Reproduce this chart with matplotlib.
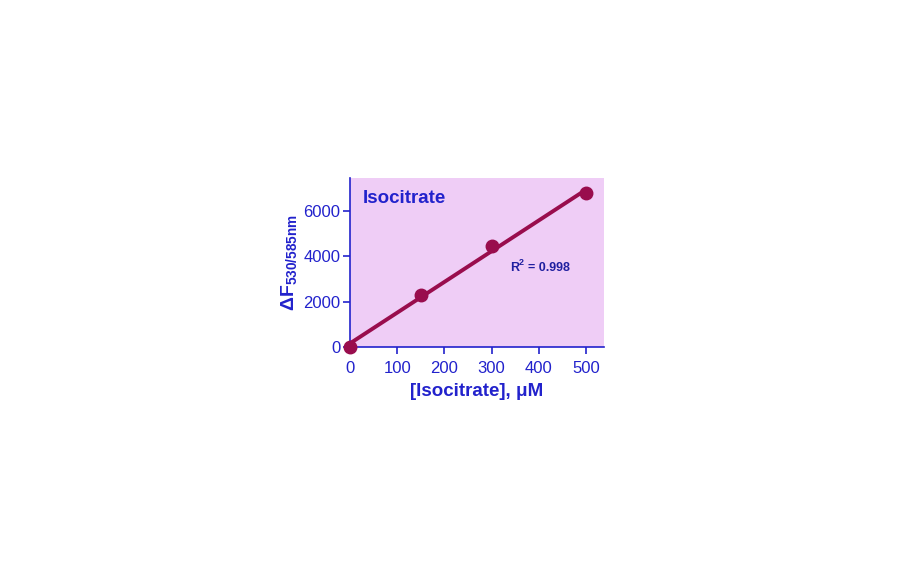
import numpy as np
import matplotlib.pyplot as plt

plt.rcParams['font.family'] = ['Liberation Sans', 'DejaVu Sans']
plt.rcParams['mathtext.fontset'] = 'custom'
plt.rcParams['mathtext.rm'] = 'Liberation Sans'
plt.rcParams['mathtext.bf'] = 'Liberation Sans:bold'

conc = [0, 150, 300, 500]
signal = [0, 2300, 4430, 6780]
xticks = [0, 100, 200, 300, 400, 500]
yticks = [0, 2000, 4000, 6000]

blue = '#2222cc'
wine = '#990d4d'

fig = plt.figure(figsize=(9.12, 5.62), dpi=100)
ax = fig.add_axes([0.3838, 0.3826, 0.2785, 0.3007])
ax.set_facecolor('#efcdf6')

slope, icpt = np.polyfit(conc, signal, 1)
xfit = np.array([0, 500])
ax.plot(xfit, slope * xfit + icpt, color=wine, lw=2.8, clip_on=False, zorder=3)
ax.plot(conc, signal, 'o', color=wine, ms=9, clip_on=False, zorder=4)

ax.set_xlim(0, 538)
ax.set_ylim(0, 7450)
ax.set_xticks(xticks)
ax.set_yticks(yticks)

for s in ['top', 'right']:
    ax.spines[s].set_visible(False)
for s in ['left', 'bottom']:
    ax.spines[s].set_color(blue)
    ax.spines[s].set_linewidth(1.2)
ax.tick_params(colors=blue, labelsize=12, length=5, width=1.2, direction='out')
ax.tick_params(axis='x', pad=5)
ax.tick_params(axis='y', pad=2)

ax.set_xlabel('[Isocitrate], \u03bcM', color=blue, fontsize=13.5, fontweight='bold', labelpad=5)
ax.set_ylabel(r'$\mathbf{\Delta F_{530/585nm}}$', color=blue, fontsize=14, labelpad=3)

ax.text(0.05, 0.88, 'Isocitrate', transform=ax.transAxes, color=blue,
        fontsize=13.5, fontweight='bold', va='center')
ax.text(0.63, 0.47, 'R', transform=ax.transAxes, color='#2020a0',
        fontsize=9, fontweight='bold', va='center')
ax.text(0.663, 0.50, '2', transform=ax.transAxes, color='#2020a0',
        fontsize=6.5, fontweight='bold', va='center')
ax.text(0.70, 0.47, '= 0.998', transform=ax.transAxes, color='#2020a0',
        fontsize=9, fontweight='bold', va='center')

fig.savefig('out.png', dpi=100)
